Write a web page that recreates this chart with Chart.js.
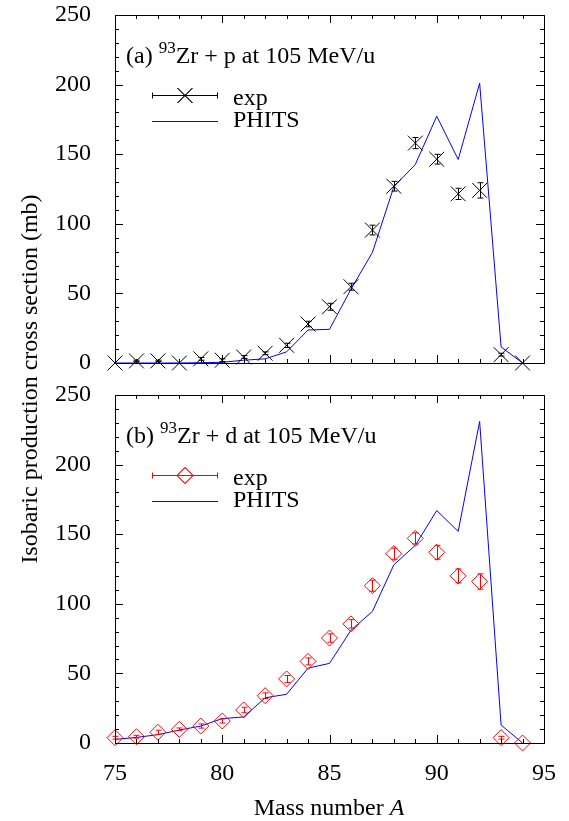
<!DOCTYPE html>
<html>
<head>
<meta charset="utf-8">
<script src="https://cdn.jsdelivr.net/npm/chart.js@4.4.1/dist/chart.umd.min.js"></script>
<style>
  body { margin: 0; background: #fff; }
  #wrap { position: relative; width: 569px; height: 821px; font-family: "Liberation Serif", "Times New Roman", serif; color: #000; }
  canvas { position: absolute; left: 0; }
  .txt { position: absolute; font-size: 24px; line-height: 24px; white-space: nowrap; }
  .txt sup { font-size: 17px; position: relative; top: -10px; vertical-align: baseline; line-height: 0; }
</style>
</head>
<body>
<div id="wrap">
  <canvas id="chartP" width="569" height="380" style="top:0"></canvas>
  <canvas id="chartD" width="569" height="441" style="top:380px"></canvas>
  <div class="txt" style="left:126px; top:43px">(a) <sup>93</sup>Zr + p at 105 MeV/u</div>
  <div class="txt" style="left:126px; top:423px">(b) <sup>93</sup>Zr + d at 105 MeV/u</div>
  <div class="txt" style="left:129px; top:795px; width:400px; text-align:center">Mass number <i>A</i></div>
  <div class="txt" style="left:-271px; top:367px; width:600px; text-align:center; transform:rotate(-90deg)">Isobaric production cross section (mb)</div>
</div>
<script>
// mass numbers
const massNumbers = [75, 76, 77, 78, 79, 80, 81, 82, 83, 84, 85, 86, 87, 88, 89, 90, 91, 92, 93, 94];

// (a) 93Zr + p
const expP   = [0, 1.5, 1.5, 0, 3, 2, 4.3, 7, 12.7, 28, 40.4, 54.8, 95.5, 127, 158, 146.4, 121.5, 124, 6, 0];
const errP   = [0, 0.5, 0.5, 0, 1, 1, 1, 1, 1.5, 2, 2.5, 2.5, 3.5, 3.5, 4, 3.5, 4, 5.5, 1, 0];
const phitsP = [0, 0, 0, 0, 0.2, 0.5, 2, 3, 8, 23.7, 24.2, 53, 79.4, 126.6, 142.6, 177.3, 146.2, 201, 11.5, 0];

// (b) 93Zr + d
const expD   = [3.8, 4.5, 7.7, 9.8, 12.2, 15.8, 23.7, 34, 46, 58.6, 75.4, 85.6, 113, 136, 147, 137, 120, 116, 3.8, 0];
const errD   = [1, 1, 1.5, 1, 1.5, 1.5, 2, 2, 2.5, 2.5, 3, 3, 4, 4, 4, 5, 5, 5.5, 1, 0];
const phitsD = [2.6, 4, 6, 9.3, 12.2, 17.5, 18.7, 32.5, 35, 53.8, 57.2, 81, 94.5, 128, 142, 167, 152, 231, 12.9, 0];

const FONT = '"Liberation Serif", "Times New Roman", serif';

function pts(ys) {
    return massNumbers.map((x, i) => ({ x: x, y: ys[i] }));
}

// frame + inward ticks on all four sides
const framePlugin = {
    id: 'frame',
    afterDraw(chart) {
        const ctx = chart.ctx;
        const a = chart.chartArea;
        const xs = chart.scales.x, ys = chart.scales.y;
        ctx.save();
        ctx.strokeStyle = '#000';
        ctx.lineWidth = 1;
        ctx.beginPath();
        for (let v = 75; v <= 95; v++) {
            const px = Math.round(xs.getPixelForValue(v)) + 0.5;
            const len = v % 5 === 0 ? 8 : 4;
            ctx.moveTo(px, a.bottom); ctx.lineTo(px, a.bottom - len);
            ctx.moveTo(px, a.top); ctx.lineTo(px, a.top + len);
        }
        for (let v = 0; v <= 250; v += 10) {
            const py = Math.round(ys.getPixelForValue(v)) + 0.5;
            const len = v % 50 === 0 ? 8 : 4;
            ctx.moveTo(a.left, py); ctx.lineTo(a.left + len, py);
            ctx.moveTo(a.right, py); ctx.lineTo(a.right - len, py);
        }
        ctx.stroke();
        ctx.strokeRect(Math.round(a.left) + 0.5, Math.round(a.top) + 0.5, Math.round(a.right - a.left), Math.round(a.bottom - a.top));
        ctx.restore();
    }
};

// vertical error bars for the exp dataset
const errorPlugin = {
    id: 'errbars',
    afterDatasetsDraw(chart, args, opts) {
        const ctx = chart.ctx;
        const xs = chart.scales.x, ys = chart.scales.y;
        const ds = chart.data.datasets[0];
        const errs = opts.errors;
        ctx.save();
        ctx.strokeStyle = ds.borderColor;
        ctx.lineWidth = 1;
        ctx.beginPath();
        ds.data.forEach((p, i) => {
            if (!errs[i]) return;
            const px = Math.round(xs.getPixelForValue(p.x)) + 0.5;
            const y1 = ys.getPixelForValue(p.y - errs[i]);
            const y2 = ys.getPixelForValue(p.y + errs[i]);
            ctx.moveTo(px, y1); ctx.lineTo(px, y2);
            ctx.moveTo(px - 3, y1); ctx.lineTo(px + 3, y1);
            ctx.moveTo(px - 3, y2); ctx.lineTo(px + 3, y2);
        });
        ctx.stroke();
        ctx.restore();
    }
};

// legend drawn inside the plot, gnuplot style
const keyPlugin = {
    id: 'key',
    afterDraw(chart) {
        const ctx = chart.ctx;
        const a = chart.chartArea;
        const x1 = a.left + 37, x2 = a.left + 103, xm = (x1 + x2) / 2;
        const rows = [a.top + 80, a.top + 106];
        const bases = [a.top + 90, a.top + 112];
        ctx.save();
        chart.data.datasets.forEach((ds, i) => {
            const y = Math.round(rows[i]) + 0.5;
            ctx.strokeStyle = ds.borderColor;
            ctx.lineWidth = 1;
            ctx.beginPath();
            ctx.moveTo(x1, y); ctx.lineTo(x2, y);
            if (i === 0) {
                ctx.moveTo(x1 + 0.5, y - 3); ctx.lineTo(x1 + 0.5, y + 3);
                ctx.moveTo(x2 - 0.5, y - 3); ctx.lineTo(x2 - 0.5, y + 3);
            }
            ctx.stroke();
            if (i === 0) {
                Chart.helpers.drawPoint(ctx, {
                    pointStyle: ds.pointStyle, radius: ds.pointRadius, borderWidth: 1
                }, xm, y);
                ctx.stroke();
            }
            ctx.fillStyle = '#000';
            ctx.font = '24px ' + FONT;
            ctx.textBaseline = 'alphabetic';
            ctx.fillText(ds.label, a.left + 118, bases[i]);
        });
        ctx.restore();
    }
};

function makeChart(id, expVals, errVals, phitsVals, expColor, marker, markerSize, showXLabels) {
    return new Chart(document.getElementById(id), {
        type: 'line',
        data: {
            datasets: [{
                label: 'exp',
                data: pts(expVals),
                showLine: false,
                borderColor: expColor,
                backgroundColor: 'rgba(0,0,0,0)',
                pointStyle: marker,
                pointRadius: markerSize,
                pointBorderWidth: 1,
                clip: false
            }, {
                label: 'PHITS',
                data: pts(phitsVals),
                borderColor: '#0000ff',
                borderWidth: 1,
                pointRadius: 0,
                tension: 0
            }]
        },
        options: {
            responsive: false,
            animation: false,
            layout: { padding: { top: 15, right: 25, left: 0, bottom: 0 } },
            plugins: {
                legend: { display: false },
                tooltip: { enabled: false },
                errbars: { errors: errVals }
            },
            scales: {
                x: {
                    type: 'linear',
                    min: 75, max: 95,
                    grid: { display: false },
                    border: { display: false },
                    ticks: {
                        display: showXLabels,
                        stepSize: 5,
                        padding: 8,
                        color: '#000',
                        font: { family: FONT, size: 24 }
                    },
                    afterFit: (s) => {
                        s.height = showXLabels ? 78 : 17;
                        s.paddingLeft = 0; s.paddingRight = 0;
                    }
                },
                y: {
                    min: 0, max: 250,
                    grid: { display: false },
                    border: { display: false },
                    ticks: {
                        stepSize: 50,
                        padding: 16,
                        color: '#000',
                        font: { family: FONT, size: 24 }
                    },
                    afterFit: (s) => {
                        s.width = 115;
                        s.paddingTop = 0; s.paddingBottom = 0;
                    }
                }
            }
        },
        plugins: [framePlugin, errorPlugin, keyPlugin]
    });
}

makeChart('chartP', expP, errP, phitsP, '#000000', 'crossRot', 10.5, false);
makeChart('chartD', expD, errD, phitsD, '#ff0000', 'rectRot', 8, true);
</script>
</body>
</html>
